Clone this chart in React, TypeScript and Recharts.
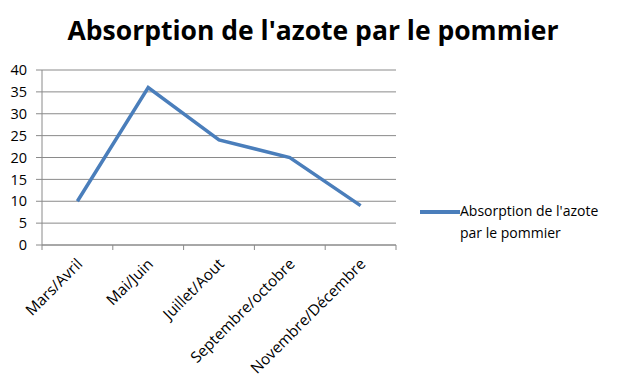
import { LineChart, Line, XAxis, YAxis, CartesianGrid } from "recharts";

const categories = ["Mars/Avril", "Mai/Juin", "Juillet/Aout", "Septembre/octobre", "Novembre/Décembre"];
const absorption = [10, 36, 24, 20, 9];
const yTicks = [0, 5, 10, 15, 20, 25, 30, 35, 40];

const data = categories.map((mois, i) => ({ mois, absorption: absorption[i] }));

const FONT = "'Open Sans', sans-serif";
const BLUE = "#4A7EBB";
const GRID = "#8a8a8a";
const W = 626;
const H = 387;
const M = { top: 70, right: 230, bottom: 112, left: 0 };
const Y_W = 42;
const band = (W - M.left - M.right - Y_W) / categories.length;

function XTick(props: any) {
  const { x, y, payload } = props;
  const ax = y - 8;
  const tx = x + 6;
  const ty = y + 12;
  return (
    <g>
      <line x1={x - band / 2} x2={x - band / 2} y1={ax} y2={ax + 5} stroke={GRID} />
      {payload.index === categories.length - 1 && (
        <line x1={x + band / 2} x2={x + band / 2} y1={ax} y2={ax + 5} stroke={GRID} />
      )}
      <text
        x={tx}
        y={ty}
        transform={`rotate(-45, ${tx}, ${ty})`}
        textAnchor="end"
        fontFamily={FONT}
        fontSize={15.3}
        fill="#000"
      >
        {payload.value}
      </text>
    </g>
  );
}

export default function App() {
  return (
    <div style={{ position: "absolute", left: 0, top: 0, width: W, height: H, background: "#fff" }}>
      <div
        style={{
          position: "absolute",
          left: 0,
          top: 12,
          width: W,
          textAlign: "center",
          fontFamily: FONT,
          fontWeight: 700,
          fontSize: 26.5,
          color: "#000",
        }}
      >
        Absorption de l'azote par le pommier
      </div>
      <LineChart width={W} height={H} data={data} margin={M}>
        <CartesianGrid vertical={false} stroke={GRID} />
        <XAxis
          dataKey="mois"
          stroke={GRID}
          tickLine={false}
          interval={0}
          padding={{ left: band / 2, right: band / 2 }}
          tick={<XTick />}
          height={30}
          tickSize={0}
          tickMargin={8}
        />
        <YAxis
          width={Y_W}
          domain={[0, 40]}
          ticks={yTicks}
          interval={0}
          stroke={GRID}
          tickSize={6}
          tickMargin={9}
          tick={{ fill: "#000", fontFamily: FONT, fontSize: 14.5 }}
        />
        <Line
          type="linear"
          dataKey="absorption"
          stroke={BLUE}
          strokeWidth={3.5}
          dot={false}
          isAnimationActive={false}
        />
      </LineChart>
      <div style={{ position: "absolute", left: 420, top: 200, display: "flex", fontFamily: FONT, fontSize: 14 }}>
        <div style={{ width: 40, height: 3.5, background: BLUE, marginTop: 10 }} />
        <div style={{ lineHeight: "22px", color: "#000" }}>
          Absorption de l'azote
          <br />
          par le pommier
        </div>
      </div>
    </div>
  );
}
